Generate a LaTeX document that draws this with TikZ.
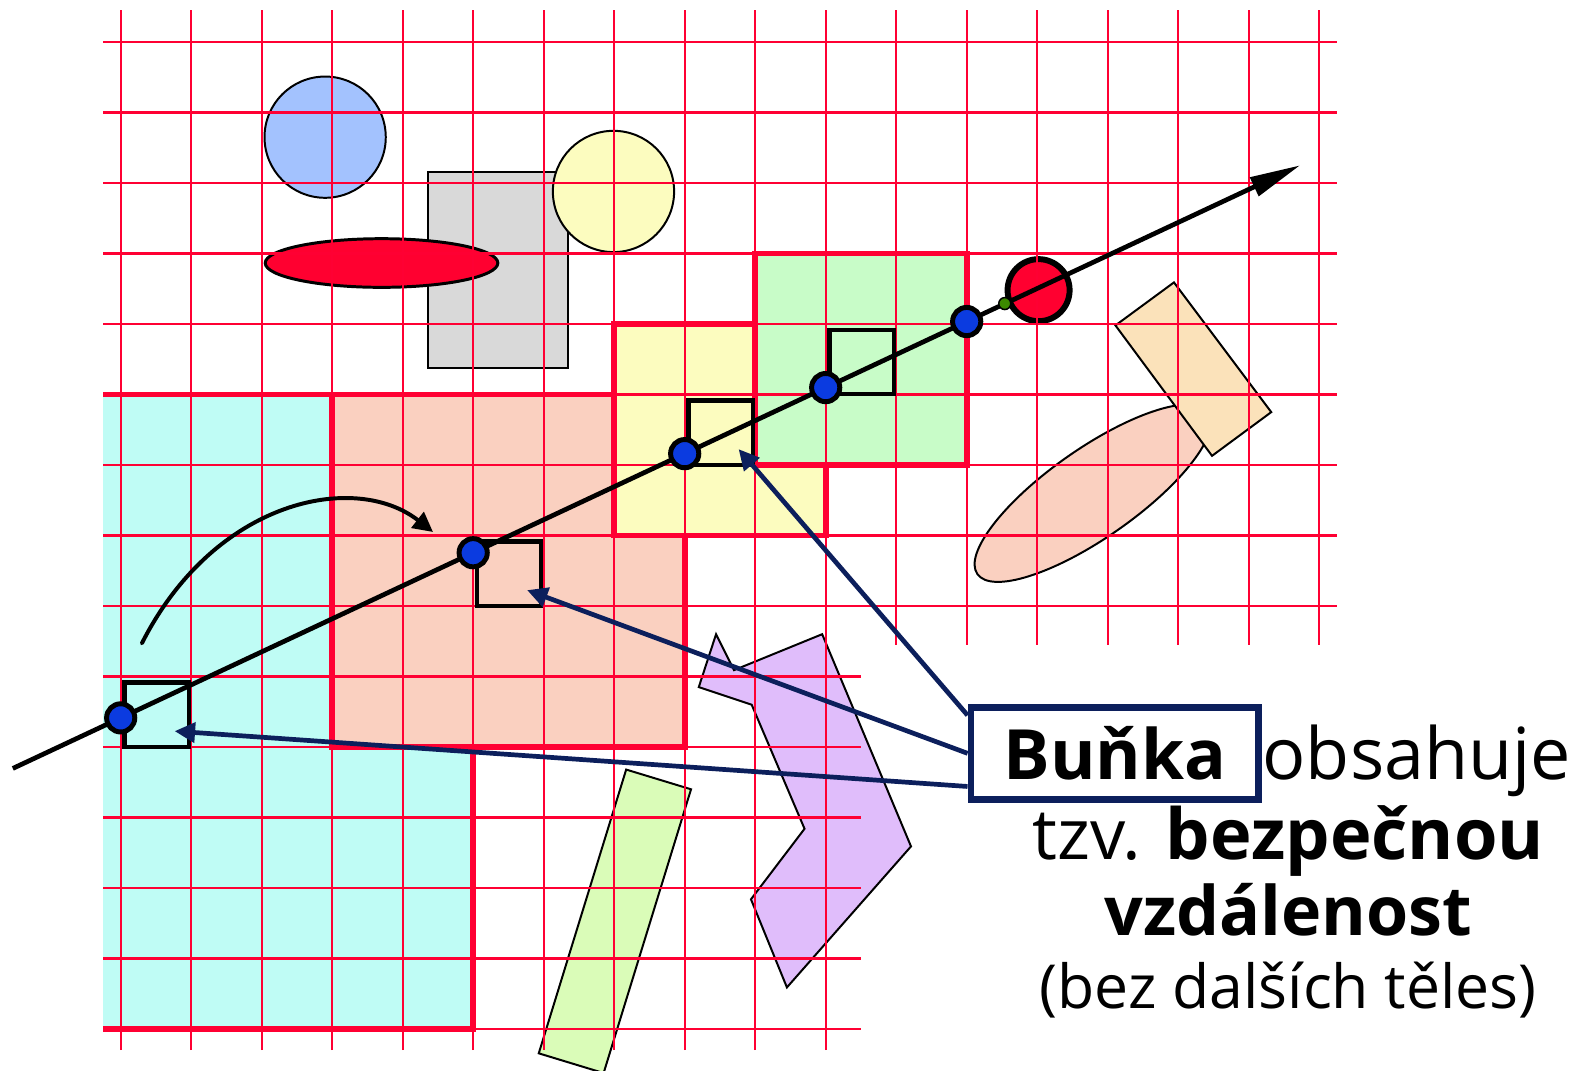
\documentclass[tikz,border=0pt]{standalone}
\usepackage{fontspec}
\setmainfont{Open Sans}
\usepackage{xcolor}
\usepackage{tikz}
\usetikzlibrary{arrows.meta,positioning}

\definecolor{gridred}{HTML}{FF0033}
\definecolor{cyancell}{HTML}{BFFCF5}
\definecolor{salmonfill}{HTML}{FAD0C0}
\definecolor{yellowcell}{HTML}{FCFCBF}
\definecolor{greencell}{HTML}{C8FCC8}
\definecolor{bluecirc}{HTML}{A3C2FE}
\definecolor{graybox}{HTML}{D9D9D9}
\definecolor{redfill}{HTML}{FF0030}
\definecolor{orangebox}{HTML}{FBE2BA}
\definecolor{purplebox}{HTML}{E0BDFB}
\definecolor{limebox}{HTML}{DAFCB8}
\definecolor{dotblue}{HTML}{0B3BE0}
\definecolor{hitgreen}{HTML}{3C8A00}
\definecolor{boxnavy}{HTML}{0C1F5C}

\begin{document}
\begin{tikzpicture}[
    every node/.style={font=\fontsize{29}{35}\selectfont},
    region/.style={draw=gridred, line width=2.3pt},
    gl/.style={draw=gridred, line width=0.95pt},
    shp/.style={draw=black, line width=0.8pt},
    cellsq/.style={draw=black, line width=1.7pt, minimum size=0.91cm, inner sep=0pt, outer sep=0pt},
    dot/.style={circle, draw=black, fill=dotblue, line width=2pt, minimum size=0.4cm, inner sep=0pt},
    ptr/.style={draw=boxnavy, line width=1.9pt, -{Triangle[length=0.29cm, width=0.28cm]}},
  ]
  \useasboundingbox (-1.712,-0.582) rectangle (20.586,14.596);

  \fill[cyancell] (-0.25,0) rectangle (5,9);
  \draw[region] (-0.25,9) -- (3,9) (5,4) -- (5,0) -- (-0.25,0);
  \filldraw[region, fill=salmonfill] (3,4) rectangle (8,9);
  \filldraw[region, fill=yellowcell] (7,7) rectangle (10,10);
  \filldraw[region, fill=greencell] (9,8) rectangle (12,11);

  \filldraw[shp, fill=bluecirc] (2.9,12.65) circle (0.86);
  \filldraw[shp, fill=graybox] (4.36,9.37) rectangle (6.34,12.15);
  \filldraw[shp, fill=yellowcell] (6.99,11.88) circle (0.86);
  \filldraw[draw=black, line width=1.2pt, fill=redfill] (3.70,10.865) ellipse [x radius=1.65, y radius=0.345];
  \filldraw[shp, fill=salmonfill, rotate around={35:(13.79,7.60)}] (13.79,7.60) ellipse [x radius=2.0, y radius=0.63];
  \filldraw[shp, fill=orangebox] (14.94,10.59) -- (16.32,8.75) -- (15.48,8.13) -- (14.11,9.98) -- cycle;
  \filldraw[shp, fill=purplebox] (8.445,5.60) -- (8.70,5.09) -- (9.95,5.60) -- (11.21,2.59) -- (9.45,0.59)
    -- (8.94,1.84) -- (9.70,2.84) -- (8.95,4.60) -- (8.20,4.85) -- cycle;
  \filldraw[shp, fill=limebox] (7.17,3.68) -- (8.09,3.40) -- (6.85,-0.625) -- (5.93,-0.345) -- cycle;
  \filldraw[draw=black, line width=2.4pt, fill=redfill] (13.02,10.48) circle (0.44);

  \foreach \x in {0,...,10} \draw[gl] (\x,-0.3) -- (\x,14.45);
  \foreach \x in {11,...,17} \draw[gl] (\x,5.45) -- (\x,14.45);
  \foreach \y in {0,...,5} \draw[gl] (-0.25,\y) -- (10.5,\y);
  \foreach \y in {6,...,14} \draw[gl] (-0.25,\y) -- (17.25,\y);

  \foreach \i/\j [count=\n] in {0/4,5/6,8/8,10/9}
    \node[cellsq] (sq\n) at (\i+0.51,\j+0.46) {};

  \coordinate (rayA) at (-1.53,3.696);
  \coordinate (rayB) at (16.73,12.251);
  \draw[line width=1.9pt, -{Triangle[length=0.72cm, width=0.28cm]}] (rayA) -- (rayB);
  \foreach \x [count=\n] in {0,5,8,10,12}
    \node[dot] (pt\n) at (\x,{4.413+0.4685*\x}) {};
  \node[circle, draw=black, fill=hitgreen, line width=0.6pt, minimum size=0.17cm, inner sep=0pt] (hit) at (12.54,10.29) {};

  \coordinate (jmpA) at (0.30,5.47);
  \coordinate (jmpB) at (4.43,7.05);
  \draw[line width=1.6pt, line cap=round, -{Triangle[length=0.28cm, width=0.28cm]}] (jmpA) .. controls (1.34,7.52) and (3.33,7.91) .. (jmpB);

  \node[draw=boxnavy, fill=white, line width=2.7pt, minimum width=4.08cm, minimum height=1.31cm, inner sep=0pt,
    font=\fontsize{28}{34}\selectfont\bfseries] (bunka) at (14.10,3.91) {Buňka};
  \draw[ptr] ([yshift=0.54cm]bunka.west) -- ([shift={(-0.2,0.22)}]sq3.south east);
  \draw[ptr] (bunka.west) -- ([shift={(-0.2,0.22)}]sq2.south east);
  \draw[ptr] ([yshift=-0.47cm]bunka.west) -- ([shift={(-0.2,0.22)}]sq1.south east);

  \node[anchor=base west, inner sep=0pt] (obs) at (16.19,3.54) {obsahuje};
  \node[anchor=base, inner sep=0pt, font=\fontsize{28.4}{34}\selectfont] (ln2) at (16.56,2.40) {tzv. \textbf{bezpečnou}};
  \node[anchor=base, inner sep=0pt, font=\fontsize{27.5}{33}\selectfont] (ln3) at (16.56,1.33) {\textbf{vzdálenost}};
  \node[anchor=base, inner sep=0pt, font=\fontsize{24.5}{30}\selectfont] (ln4) at (16.56,0.29) {(bez dalších těles)};
\end{tikzpicture}
\end{document}
